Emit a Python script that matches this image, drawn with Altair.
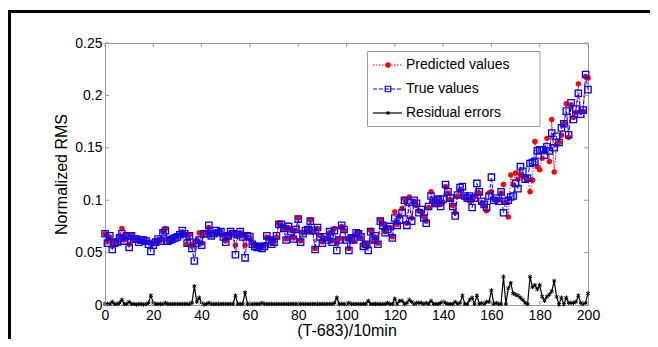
import altair as alt
import pandas as pd

x_vals = list(range(0, 201))

true_vals = [
    0.068, 0.059, 0.066, 0.053, 0.059, 0.060, 0.064, 0.068, 0.061, 0.066,
    0.055, 0.066, 0.063, 0.063, 0.060, 0.062, 0.062, 0.061, 0.058, 0.051,
    0.057, 0.060, 0.063, 0.061, 0.069, 0.071, 0.061, 0.062, 0.063, 0.064,
    0.065, 0.067, 0.071, 0.068, 0.059, 0.066, 0.054, 0.042, 0.059, 0.062,
    0.057, 0.068, 0.068, 0.076, 0.066, 0.068, 0.071, 0.069, 0.070, 0.065,
    0.060, 0.066, 0.070, 0.068, 0.048, 0.067, 0.070, 0.065, 0.045, 0.066,
    0.065, 0.058, 0.056, 0.055, 0.056, 0.054, 0.056, 0.066, 0.062, 0.058,
    0.060, 0.066, 0.077, 0.077, 0.073, 0.062, 0.075, 0.070, 0.063, 0.072,
    0.082, 0.060, 0.068, 0.071, 0.072, 0.080, 0.071, 0.053, 0.074, 0.065,
    0.059, 0.065, 0.062, 0.070, 0.060, 0.071, 0.052, 0.062, 0.076, 0.072,
    0.062, 0.052, 0.064, 0.062, 0.069, 0.068, 0.065, 0.056, 0.058, 0.052,
    0.070, 0.062, 0.066, 0.058, 0.080, 0.076, 0.069, 0.072, 0.075, 0.064,
    0.083, 0.076, 0.081, 0.088, 0.100, 0.076, 0.098, 0.080, 0.100, 0.097,
    0.088, 0.091, 0.083, 0.078, 0.094, 0.104, 0.100, 0.097, 0.101, 0.094,
    0.101, 0.115, 0.108, 0.102, 0.094, 0.085, 0.105, 0.112, 0.113, 0.104,
    0.102, 0.104, 0.093, 0.102, 0.116, 0.108, 0.099, 0.096, 0.093, 0.104,
    0.122, 0.100, 0.102, 0.099, 0.108, 0.088, 0.099, 0.100, 0.103, 0.104,
    0.116, 0.111, 0.132, 0.1275, 0.120, 0.121, 0.135, 0.136, 0.137, 0.147,
    0.148, 0.148, 0.143, 0.151, 0.147, 0.164, 0.150, 0.161, 0.155, 0.169,
    0.173, 0.185, 0.1625, 0.193, 0.177, 0.187, 0.202, 0.182, 0.186, 0.220,
    0.2055,
]

pred_vals = [
    0.068, 0.060, 0.065, 0.056, 0.060, 0.059, 0.066, 0.073, 0.062, 0.067,
    0.058, 0.067, 0.062, 0.063, 0.061, 0.061, 0.062, 0.060, 0.060, 0.060,
    0.059, 0.061, 0.062, 0.062, 0.070, 0.073, 0.062, 0.061, 0.064, 0.065,
    0.066, 0.066, 0.070, 0.067, 0.058, 0.067, 0.056, 0.060, 0.062, 0.069,
    0.059, 0.068, 0.069, 0.074, 0.067, 0.069, 0.070, 0.070, 0.069, 0.066,
    0.061, 0.065, 0.069, 0.069, 0.057, 0.066, 0.069, 0.066, 0.057, 0.065,
    0.064, 0.059, 0.057, 0.056, 0.055, 0.056, 0.057, 0.065, 0.063, 0.059,
    0.061, 0.065, 0.078, 0.076, 0.072, 0.063, 0.074, 0.071, 0.064, 0.071,
    0.083, 0.061, 0.069, 0.070, 0.073, 0.081, 0.070, 0.054, 0.073, 0.066,
    0.060, 0.064, 0.063, 0.069, 0.061, 0.073, 0.059, 0.063, 0.075, 0.071,
    0.063, 0.054, 0.065, 0.061, 0.068, 0.069, 0.064, 0.057, 0.059, 0.056,
    0.071, 0.061, 0.065, 0.059, 0.081, 0.077, 0.070, 0.074, 0.074, 0.065,
    0.089, 0.077, 0.085, 0.092, 0.101, 0.078, 0.103, 0.083, 0.099, 0.095,
    0.090, 0.089, 0.084, 0.080, 0.093, 0.108, 0.099, 0.096, 0.102, 0.096,
    0.098, 0.113, 0.107, 0.101, 0.095, 0.088, 0.104, 0.110, 0.104, 0.103,
    0.101, 0.099, 0.100, 0.103, 0.107, 0.107, 0.097, 0.095, 0.090, 0.107,
    0.108, 0.101, 0.100, 0.100, 0.107, 0.115, 0.098, 0.084, 0.124, 0.115,
    0.126, 0.120, 0.125, 0.1225, 0.122, 0.120, 0.108, 0.119, 0.156, 0.132,
    0.129, 0.140, 0.147, 0.159, 0.137, 0.177, 0.127, 0.153, 0.155, 0.162,
    0.173, 0.192, 0.160, 0.191, 0.179, 0.184, 0.211, 0.184, 0.185, 0.218,
    0.2166,
]

resid_vals = [
    0.001, 0.001, 0.001, 0.003, 0.001, 0.001, 0.002, 0.005, 0.001, 0.001,
    0.003, 0.001, 0.001, 0.0005, 0.001, 0.001, 0.0005, 0.001, 0.002, 0.009,
    0.002, 0.001, 0.001, 0.001, 0.001, 0.002, 0.001, 0.001, 0.001, 0.001,
    0.001, 0.001, 0.001, 0.001, 0.001, 0.001, 0.002, 0.018, 0.003, 0.007,
    0.002, 0.0005, 0.001, 0.002, 0.001, 0.001, 0.001, 0.001, 0.001, 0.001,
    0.001, 0.001, 0.001, 0.001, 0.009, 0.001, 0.001, 0.001, 0.012, 0.001,
    0.001, 0.001, 0.001, 0.001, 0.001, 0.002, 0.001, 0.001, 0.001, 0.001,
    0.001, 0.001, 0.001, 0.001, 0.001, 0.001, 0.001, 0.001, 0.001, 0.001,
    0.001, 0.001, 0.001, 0.001, 0.001, 0.001, 0.001, 0.001, 0.001, 0.001,
    0.001, 0.001, 0.001, 0.001, 0.001, 0.002, 0.007, 0.001, 0.001, 0.001,
    0.001, 0.002, 0.001, 0.001, 0.001, 0.001, 0.001, 0.001, 0.001, 0.004,
    0.001, 0.001, 0.001, 0.001, 0.001, 0.001, 0.001, 0.002, 0.001, 0.001,
    0.006, 0.001, 0.004, 0.004, 0.001, 0.002, 0.005, 0.003, 0.001, 0.002,
    0.002, 0.002, 0.001, 0.002, 0.001, 0.004, 0.001, 0.001, 0.001, 0.002,
    0.003, 0.002, 0.001, 0.001, 0.001, 0.003, 0.001, 0.002, 0.009, 0.001,
    0.001, 0.005, 0.007, 0.001, 0.009, 0.001, 0.002, 0.001, 0.003, 0.003,
    0.014, 0.001, 0.002, 0.001, 0.001, 0.027, 0.001, 0.016, 0.021, 0.011,
    0.010, 0.009, 0.007, 0.005, 0.002, 0.001, 0.027, 0.017, 0.019, 0.015,
    0.019, 0.008, 0.004, 0.008, 0.010, 0.013, 0.023, 0.008, 0.0005, 0.007,
    0.0005, 0.007, 0.002, 0.002, 0.002, 0.003, 0.009, 0.002, 0.001, 0.002,
    0.011,
]

x_ticks = [0, 20, 40, 60, 80, 100, 120, 140, 160, 180, 200]
y_ticks = [0, 0.05, 0.1, 0.15, 0.2, 0.25]
legend_labels = ["Predicted values", "True values", "Residual errors"]

df = pd.DataFrame({"t": x_vals, "pred": pred_vals, "true": true_vals, "resid": resid_vals})
xt_df = pd.DataFrame({"t": x_ticks})
yt_df = pd.DataFrame({"v": y_ticks})
one = pd.DataFrame({"a": [0]})

W, H = 483, 262
GRAY = "#9a9a9a"
FONT = "Liberation Sans"
ASTERISK = "M0,-1L0,1M-0.87,-0.5L0.87,0.5M-0.87,0.5L0.87,-0.5"

xs = alt.Scale(domain=[0, 200], nice=False, zero=False)
ys = alt.Scale(domain=[0, 0.25], nice=False)

x_axis = alt.Axis(values=x_ticks, title="(T-683)/10min", grid=False, tickSize=0,
                  labelPadding=3, titlePadding=0, domainColor=GRAY,
                  labelFontSize=14, titleFontSize=16, labelFlush=False)
y_axis = alt.Axis(values=y_ticks, title="Normalized RMS", grid=False, tickSize=0,
                  labelPadding=3, titlePadding=5, domainColor=GRAY, format=".2~f",
                  labelFontSize=14, titleFontSize=16, labelFlush=False)

X = alt.X("t:Q", scale=xs, axis=x_axis)


def Y(field):
    return alt.Y(f"{field}:Q", scale=ys, axis=y_axis)


base = alt.Chart(df)

pred_line = base.mark_line(color="#ff0000", strokeWidth=1, strokeDash=[1.5, 1.5]).encode(x=X, y=Y("pred"))
pred_pts = base.mark_point(shape="circle", filled=True, size=30, color="#ff0000", opacity=1).encode(x=X, y=Y("pred"))
true_line = base.mark_line(color="#0000ff", strokeWidth=1, strokeDash=[4, 2]).encode(x=X, y=Y("true"))
true_pts = base.mark_point(shape="square", filled=False, size=40, color="#0000ff", strokeWidth=1.3, opacity=1).encode(x=X, y=Y("true"))
res_line = base.mark_line(color="black", strokeWidth=1.2).encode(x=X, y=Y("resid"))
res_pts = base.mark_point(shape=ASTERISK, filled=False, size=20, color="black", strokeWidth=1, opacity=1).encode(x=X, y=Y("resid"))

# inward ticks on all four sides (MATLAB box style)
xt_bot = alt.Chart(xt_df).mark_rule(color=GRAY).encode(x=X, y=alt.value(H), y2=alt.value(H - 4))
xt_top = alt.Chart(xt_df).mark_rule(color=GRAY).encode(x=X, y=alt.value(0), y2=alt.value(4))
yt_left = alt.Chart(yt_df).mark_rule(color=GRAY).encode(y=Y("v"), x=alt.value(0), x2=alt.value(4))
yt_right = alt.Chart(yt_df).mark_rule(color=GRAY).encode(y=Y("v"), x=alt.value(W), x2=alt.value(W - 4))

# legend
lg_box = alt.Chart(one).mark_rect(fill="white", stroke=GRAY, strokeWidth=1).encode(
    x=alt.value(262.5), x2=alt.value(435), y=alt.value(8.5), y2=alt.value(83.5))
rows_y = [22, 46, 70]
lg_layers = [lg_box]
lg_layers.append(alt.Chart(one).mark_rule(color="#ff0000", strokeWidth=1, strokeDash=[1.5, 1.5]).encode(
    x=alt.value(268), x2=alt.value(297), y=alt.value(rows_y[0])))
lg_layers.append(alt.Chart(one).mark_point(shape="circle", filled=True, size=30, color="#ff0000", opacity=1).encode(
    x=alt.value(283), y=alt.value(rows_y[0])))
lg_layers.append(alt.Chart(one).mark_rule(color="#0000ff", strokeWidth=1, strokeDash=[4, 2]).encode(
    x=alt.value(268), x2=alt.value(297), y=alt.value(rows_y[1])))
lg_layers.append(alt.Chart(one).mark_point(shape="square", filled=False, size=30, color="#0000ff", strokeWidth=1.2, opacity=1).encode(
    x=alt.value(283), y=alt.value(rows_y[1])))
lg_layers.append(alt.Chart(one).mark_rule(color="black", strokeWidth=1.2).encode(
    x=alt.value(268), x2=alt.value(297), y=alt.value(rows_y[2])))
lg_layers.append(alt.Chart(one).mark_point(shape=ASTERISK, filled=False, size=16, color="black", strokeWidth=1, opacity=1).encode(
    x=alt.value(283), y=alt.value(rows_y[2])))
for lab, ry in zip(legend_labels, rows_y):
    lg_layers.append(alt.Chart(one).mark_text(text=lab, align="left", baseline="middle", fontSize=14,
                                              font=FONT, color="black").encode(x=alt.value(301), y=alt.value(ry)))

# outer figure frame (left and top black border)
frame_left = alt.Chart(one).mark_rule(color="black", strokeWidth=3).encode(
    x=alt.value(-95.5), y=alt.value(-33), y2=alt.value(300))
frame_top = alt.Chart(one).mark_rule(color="black", strokeWidth=3).encode(
    x=alt.value(-97), x2=alt.value(560), y=alt.value(-31.5))

chart = alt.layer(
    pred_line, pred_pts, true_line, true_pts, res_line, res_pts,
    xt_bot, xt_top, yt_left, yt_right,
    *lg_layers, frame_left, frame_top,
).properties(
    width=W, height=H,
    padding={"left": 97, "top": 35, "right": 62, "bottom": 34},
    autosize=alt.AutoSizeParams(type="none"),
    background="white",
).configure_view(
    stroke=GRAY, strokeWidth=1
).configure_axis(
    labelFont=FONT, titleFont=FONT, labelColor="black", titleColor="black",
    titleFontWeight="normal", domainWidth=1
)

chart.save("out.html", embed_options={"renderer": "svg", "actions": False})
